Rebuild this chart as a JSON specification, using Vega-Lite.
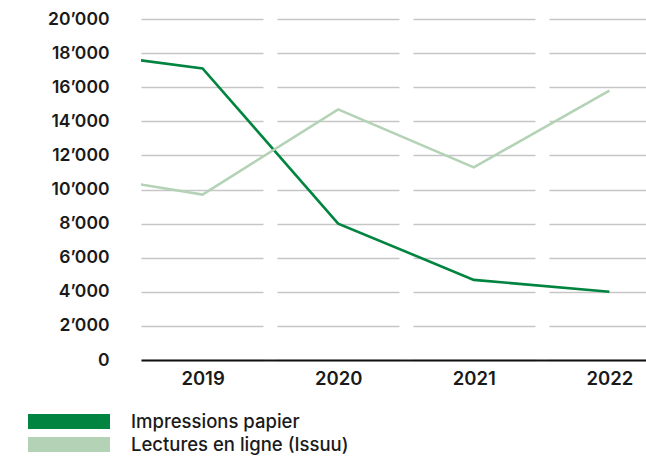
{
  "$schema": "https://vega.github.io/schema/vega-lite/v6.json",
  "width": 505,
  "height": 341,
  "autosize": {"type": "none"},
  "padding": {"left": 141, "top": 19, "right": 0, "bottom": 99},
  "config": {
    "view": {"stroke": null},
    "locale": {"number": {"decimal": ".", "thousands": "’", "grouping": [3], "currency": ["", ""]}},
    "font": "Inter"
  },
  "data": {
    "values": [
      {"annee": 2018, "serie": "Impressions papier", "valeur": 18150},
      {"annee": 2019, "serie": "Impressions papier", "valeur": 17100},
      {"annee": 2020, "serie": "Impressions papier", "valeur": 8000},
      {"annee": 2021, "serie": "Impressions papier", "valeur": 4700},
      {"annee": 2022, "serie": "Impressions papier", "valeur": 4000},
      {"annee": 2018, "serie": "Lectures en ligne (Issuu)", "valeur": 11000},
      {"annee": 2019, "serie": "Lectures en ligne (Issuu)", "valeur": 9700},
      {"annee": 2020, "serie": "Lectures en ligne (Issuu)", "valeur": 14700},
      {"annee": 2021, "serie": "Lectures en ligne (Issuu)", "valeur": 11300},
      {"annee": 2022, "serie": "Lectures en ligne (Issuu)", "valeur": 15800}
    ]
  },
  "mark": {"type": "line", "strokeWidth": 2.6, "clip": true},
  "encoding": {
    "x": {
      "field": "annee",
      "type": "quantitative",
      "scale": {"domain": [2018.546, 2022.27], "nice": false, "zero": false},
      "axis": {
        "title": null,
        "values": [2019, 2020, 2021, 2022],
        "format": "d",
        "grid": false,
        "ticks": false,
        "tickSize": 0,
        "domain": true,
        "domainColor": "#111111",
        "domainWidth": 2,
        "labelFont": "Inter",
        "labelFontWeight": 600,
        "labelFontSize": 18.5,
        "labelColor": "#1a1a1a",
        "labelPadding": 9,
        "labelBaseline": "top"
      }
    },
    "y": {
      "field": "valeur",
      "type": "quantitative",
      "scale": {"domain": [0, 20000], "nice": false},
      "axis": {
        "title": null,
        "values": [0, 2000, 4000, 6000, 8000, 10000, 12000, 14000, 16000, 18000, 20000],
        "format": ",d",
        "domain": false,
        "ticks": false,
        "grid": true,
        "gridColor": "#c6c6c6",
        "gridWidth": 1.6,
        "gridDash": [122, 14],
        "labelFont": "Inter",
        "labelFontWeight": 600,
        "labelFontSize": 17.5,
        "labelColor": "#1a1a1a",
        "labelPadding": 32
      }
    },
    "color": {
      "field": "serie",
      "type": "nominal",
      "scale": {
        "domain": ["Impressions papier", "Lectures en ligne (Issuu)"],
        "range": ["#00843f", "#b4d3b6"]
      },
      "legend": {
        "title": null,
        "orient": "none",
        "legendX": -81.25,
        "legendY": 393.25,
        "direction": "vertical",
        "symbolType": "M-20.5,-3.75H20.5V3.75H-20.5Z",
        "symbolSize": 16,
        "symbolStrokeWidth": 0,
        "labelFont": "Inter",
        "labelFontWeight": 500,
        "labelFontSize": 18.5,
        "labelLimit": 400,
        "labelColor": "#1a1a1a",
        "labelOffset": 52.75,
        "rowPadding": 4,
        "padding": 0,
        "encode": {
          "symbols": {
            "update": {
              "fill": {"scale": "color", "field": "value"},
              "fillOpacity": {"value": 1},
              "strokeWidth": {"value": 0}
            }
          }
        }
      }
    }
  }
}
